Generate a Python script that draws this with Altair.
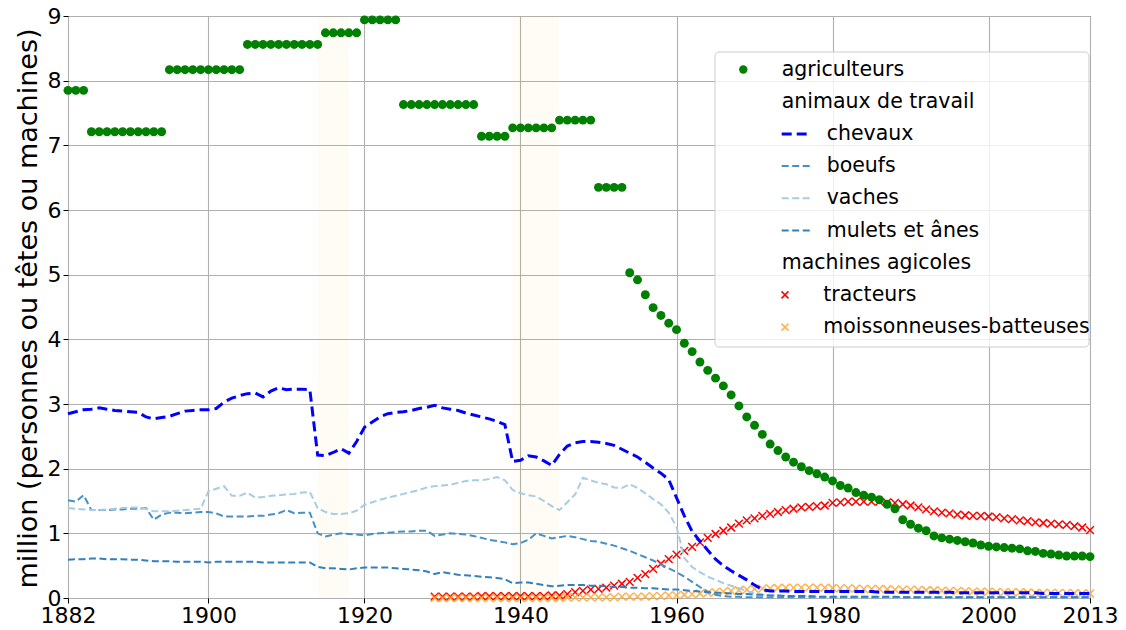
import altair as alt
import pandas as pd

# ---------------- data ----------------
years = list(range(1882, 2014))
machine_years = list(range(1929, 2014))

agriculteurs = [
    7.85, 7.85, 7.85,
    7.21, 7.21, 7.21, 7.21, 7.21, 7.21, 7.21, 7.21, 7.21, 7.21,
    8.17, 8.17, 8.17, 8.17, 8.17, 8.17, 8.17, 8.17, 8.17, 8.17,
    8.56, 8.56, 8.56, 8.56, 8.56, 8.56, 8.56, 8.56, 8.56, 8.56,
    8.74, 8.74, 8.74, 8.74, 8.74,
    8.94, 8.94, 8.94, 8.94, 8.94,
    7.63, 7.63, 7.63, 7.63, 7.63, 7.63, 7.63, 7.63, 7.63, 7.63,
    7.14, 7.14, 7.14, 7.14,
    7.27, 7.27, 7.27, 7.27, 7.27, 7.27,
    7.39, 7.39, 7.39, 7.39, 7.39,
    6.35, 6.35, 6.35, 6.35,
    5.03, 4.92, 4.69, 4.49, 4.37, 4.25, 4.15, 3.94, 3.81, 3.65,
    3.52, 3.40, 3.28, 3.14, 2.97, 2.80, 2.67, 2.53, 2.38, 2.28,
    2.18, 2.10, 2.03, 1.97, 1.92, 1.87, 1.81, 1.74, 1.70, 1.63,
    1.59, 1.56, 1.52, 1.45, 1.38, 1.21, 1.14, 1.08, 1.04, 0.96,
    0.93, 0.91, 0.89, 0.87, 0.85, 0.82, 0.80, 0.79, 0.78, 0.77,
    0.76, 0.73, 0.72, 0.69, 0.68, 0.665, 0.65, 0.65, 0.65, 0.64,
]

chevaux = [
    2.85, 2.88, 2.91, 2.92, 2.94, 2.92, 2.90, 2.89, 2.88, 2.87,
    2.80, 2.77, 2.79, 2.81, 2.85, 2.89, 2.90, 2.91, 2.91, 2.93,
    3.03, 3.09, 3.13, 3.16, 3.17, 3.11, 3.20, 3.25, 3.22, 3.23,
    3.23, 3.22, 2.21, 2.20, 2.25, 2.31, 2.24, 2.42, 2.64, 2.72,
    2.80, 2.85, 2.87, 2.88, 2.90, 2.93, 2.95, 2.98, 2.94, 2.92,
    2.90, 2.86, 2.83, 2.80, 2.77, 2.73, 2.68, 2.11, 2.13, 2.20,
    2.18, 2.12, 2.05, 2.22, 2.35, 2.40, 2.42, 2.42, 2.41, 2.39,
    2.36, 2.30, 2.24, 2.18, 2.10, 2.01, 1.93, 1.83, 1.55, 1.27,
    1.03, 0.88, 0.74, 0.60, 0.50, 0.42, 0.35, 0.28, 0.20, 0.13,
    0.11, 0.11, 0.11, 0.10, 0.10, 0.10, 0.10, 0.10, 0.10, 0.10,
    0.10, 0.10, 0.10, 0.10, 0.09, 0.09, 0.09, 0.09, 0.09, 0.09,
    0.09, 0.09, 0.09, 0.09, 0.08, 0.08, 0.08, 0.08, 0.08, 0.08,
    0.08, 0.08, 0.08, 0.08, 0.08, 0.07, 0.07, 0.07, 0.07, 0.07,
    0.07, 0.07,
]

boeufs = [
    1.51, 1.49, 1.59, 1.36, 1.36, 1.36, 1.37, 1.37, 1.38, 1.38,
    1.39, 1.21, 1.29, 1.32, 1.32, 1.31, 1.32, 1.33, 1.33, 1.31,
    1.26, 1.26, 1.26, 1.26, 1.27, 1.27, 1.29, 1.31, 1.36, 1.31,
    1.32, 1.32, 1.00, 0.95, 0.98, 1.00, 0.99, 0.98, 0.97, 0.99,
    1.00, 1.01, 1.02, 1.03, 1.03, 1.04, 1.04, 0.96, 0.98, 1.00,
    0.99, 0.98, 0.96, 0.93, 0.90, 0.88, 0.86, 0.83, 0.85, 0.90,
    1.00, 0.96, 0.92, 0.94, 0.96, 0.94, 0.91, 0.88, 0.87, 0.84,
    0.81, 0.77, 0.73, 0.68, 0.63, 0.58, 0.52, 0.46, 0.40, 0.33,
    0.25, 0.17, 0.10, 0.05, 0.03, 0.02, 0.02, 0.01, 0.01, 0.01,
    0.01, 0.01, 0.01, 0.01, 0.01, 0.01, 0.01, 0.01, 0.01, 0.01,
    0.01, 0.01, 0.01, 0.01, 0.01, 0.01, 0.01, 0.01, 0.01, 0.01,
    0.01, 0.01, 0.01, 0.01, 0.01, 0.01, 0.01, 0.01, 0.01, 0.01,
    0.01, 0.01, 0.01, 0.01, 0.01, 0.01, 0.01, 0.01, 0.01, 0.01,
    0.01, 0.01,
]

vaches = [
    1.39, 1.38, 1.37, 1.36, 1.36, 1.37, 1.38, 1.39, 1.40, 1.40,
    1.38, 1.34, 1.34, 1.34, 1.35, 1.36, 1.37, 1.38, 1.65, 1.69,
    1.73, 1.58, 1.58, 1.63, 1.55, 1.56, 1.58, 1.59, 1.60, 1.61,
    1.63, 1.64, 1.39, 1.33, 1.30, 1.30, 1.31, 1.35, 1.44, 1.48,
    1.52, 1.55, 1.58, 1.61, 1.64, 1.67, 1.71, 1.73, 1.74, 1.75,
    1.78, 1.81, 1.82, 1.82, 1.84, 1.87, 1.82, 1.67, 1.62, 1.59,
    1.57, 1.50, 1.42, 1.36, 1.48, 1.60, 1.86, 1.82, 1.78, 1.76,
    1.71, 1.70, 1.76, 1.70, 1.62, 1.53, 1.45, 1.32, 1.10, 0.62,
    0.48, 0.40, 0.33, 0.28, 0.23, 0.19, 0.15, 0.11, 0.07, 0.05,
    0.04, 0.04, 0.03, 0.03, 0.03, 0.03, 0.02, 0.02, 0.02, 0.02,
    0.02, 0.02, 0.02, 0.02, 0.02, 0.01, 0.01, 0.01, 0.01, 0.01,
    0.01, 0.01, 0.01, 0.01, 0.01, 0.01, 0.01, 0.01, 0.01, 0.01,
    0.01, 0.01, 0.01, 0.01, 0.01, 0.01, 0.01, 0.01, 0.01, 0.01,
    0.01, 0.01,
]

mulets = [
    0.59, 0.60, 0.60, 0.61, 0.61, 0.60, 0.60, 0.60, 0.59, 0.59,
    0.58, 0.57, 0.57, 0.57, 0.56, 0.56, 0.56, 0.56, 0.55, 0.56,
    0.56, 0.56, 0.56, 0.56, 0.56, 0.55, 0.55, 0.55, 0.55, 0.55,
    0.55, 0.55, 0.48, 0.46, 0.46, 0.45, 0.44, 0.46, 0.47, 0.47,
    0.47, 0.47, 0.46, 0.45, 0.44, 0.43, 0.41, 0.37, 0.40, 0.38,
    0.36, 0.35, 0.34, 0.33, 0.32, 0.31, 0.29, 0.23, 0.24, 0.24,
    0.22, 0.20, 0.18, 0.19, 0.20, 0.20, 0.20, 0.19, 0.19, 0.18,
    0.17, 0.17, 0.16, 0.16, 0.15, 0.15, 0.14, 0.13, 0.13, 0.12,
    0.11, 0.10, 0.09, 0.08, 0.08, 0.07, 0.06, 0.06, 0.05, 0.05,
    0.04, 0.04, 0.03, 0.03, 0.03, 0.03, 0.02, 0.02, 0.02, 0.02,
    0.02, 0.02, 0.02, 0.02, 0.02, 0.02, 0.02, 0.01, 0.01, 0.01,
    0.01, 0.01, 0.01, 0.01, 0.01, 0.01, 0.01, 0.01, 0.01, 0.01,
    0.01, 0.01, 0.01, 0.01, 0.01, 0.01, 0.01, 0.01, 0.01, 0.01,
    0.01, 0.01,
]

tracteurs = [
    0.02, 0.02, 0.02, 0.02, 0.02, 0.02, 0.03, 0.03, 0.03, 0.03,
    0.03, 0.03, 0.03, 0.03, 0.03, 0.04, 0.04, 0.06, 0.09, 0.11,
    0.13, 0.14, 0.16, 0.19, 0.22, 0.25, 0.31, 0.37, 0.45, 0.53,
    0.60, 0.67, 0.73, 0.79, 0.86, 0.93, 0.99, 1.04, 1.09, 1.15,
    1.20, 1.23, 1.27, 1.30, 1.33, 1.36, 1.38, 1.40, 1.41, 1.42,
    1.43, 1.47, 1.48, 1.49, 1.49, 1.49, 1.49, 1.49, 1.48, 1.47,
    1.45, 1.43, 1.40, 1.37, 1.34, 1.32, 1.31, 1.29, 1.28, 1.27,
    1.27, 1.26, 1.25, 1.23, 1.22, 1.20, 1.19, 1.17, 1.16, 1.15,
    1.14, 1.13, 1.11, 1.09, 1.05,
]

moissonneuses = [
    0.00, 0.00, 0.00, 0.00, 0.00, 0.00, 0.00, 0.00, 0.00, 0.00,
    0.00, 0.00, 0.00, 0.00, 0.00, 0.00, 0.00, 0.01, 0.01, 0.01,
    0.01, 0.01, 0.01, 0.01, 0.02, 0.02, 0.02, 0.02, 0.03, 0.03,
    0.04, 0.04, 0.05, 0.06, 0.07, 0.08, 0.09, 0.10, 0.11, 0.12,
    0.13, 0.14, 0.145, 0.15, 0.155, 0.16, 0.16, 0.16, 0.16, 0.16,
    0.16, 0.155, 0.15, 0.15, 0.145, 0.14, 0.14, 0.14, 0.135, 0.13,
    0.13, 0.13, 0.125, 0.12, 0.12, 0.115, 0.11, 0.11, 0.105, 0.10,
    0.10, 0.10, 0.095, 0.09, 0.09, 0.09, 0.085, 0.08, 0.08, 0.08,
    0.08, 0.075, 0.075, 0.07, 0.07,
]

war_start = [1914, 1939]
war_end = [1918, 1945]

x_ticks = [1882, 1900, 1920, 1940, 1960, 1980, 2000, 2013]
y_ticks = [0, 1, 2, 3, 4, 5, 6, 7, 8, 9]

legend_labels = [
    "agriculteurs", "animaux de travail", "chevaux", "boeufs", "vaches",
    "mulets et ânes", "machines agicoles", "tracteurs", "moissonneuses-batteuses",
]

# ---------------- styling ----------------
FONT = "DejaVu Sans"
W, H = 1022, 582
C_CHEV = "#0000ff"
C_BOEUF = "#4590c8"
C_VACHE = "#a6cde3"
C_MULET = "#3080bf"
C_TRAC = "#ff0000"
C_MOIS = "#ffa530"
XPATH = "M -1 -1 L 1 1 M -1 1 L 1 -1"

xscale = alt.Scale(domain=[1882, 2013], nice=False, zero=False)
yscale = alt.Scale(domain=[0, 9], nice=False)

x_axis = alt.Axis(values=x_ticks, format="d", title=None, grid=True,
                  labelOverlap=False, labelFlush=False)
y_axis = alt.Axis(values=y_ticks, title="million (personnes ou têtes ou machines)",
                  grid=True, titleX=-40, titleY=292, titleAlign="center",
                  titleBaseline="middle", titleAngle=270, titleFontSize=27)

X = alt.X("annee:Q", scale=xscale, axis=x_axis)
Y = alt.Y("valeur:Q", scale=yscale, axis=y_axis)

# war spans
spans = pd.DataFrame({"debut": war_start, "fin": war_end})
span_layer = alt.Chart(spans).mark_rect(color="orange", opacity=0.035).encode(
    x=alt.X("debut:Q", scale=xscale, axis=x_axis), x2="fin:Q",
    y=alt.value(0), y2=alt.value(H))


def series_df(xs, vs):
    return pd.DataFrame({"annee": xs, "valeur": vs})


def line_layer(vals, color, width, dash):
    return alt.Chart(series_df(years, vals)).mark_line(
        color=color, strokeWidth=width, strokeDash=dash).encode(x=X, y=Y)


def cross_layer(vals, color, opacity):
    return alt.Chart(series_df(machine_years, vals)).mark_point(
        shape=XPATH, filled=False, color=color, strokeWidth=1.5, size=60,
        opacity=opacity).encode(x=X, y=Y)


trac_layer = cross_layer(tracteurs, C_TRAC, 1.0)
mois_layer = cross_layer(moissonneuses, C_MOIS, 0.85)

chev_layer = line_layer(chevaux, C_CHEV, 3, [10, 5])
boeuf_layer = line_layer(boeufs, C_BOEUF, 2, [7, 3.5])
vache_layer = line_layer(vaches, C_VACHE, 2, [7, 3.5])
mulet_layer = line_layer(mulets, C_MULET, 2, [7, 3.5])

agri_layer = alt.Chart(series_df(years, agriculteurs)).mark_point(
    shape="circle", filled=True, color="green", size=80, opacity=1).encode(x=X, y=Y)

# ---------------- legend ----------------
one = pd.DataFrame({"k": [0]})
leg_layers = []
leg_layers.append(alt.Chart(one).mark_rect(
    fill="white", fillOpacity=0.8, stroke="#cccccc", strokeWidth=1, cornerRadius=4
).encode(x=alt.value(647), x2=alt.value(1021), y=alt.value(36), y2=alt.value(331)))

row_y = [53.5 + 32.2 * i for i in range(len(legend_labels))]
text_x = [713.7, 713.7, 758.7, 758.7, 758.7, 758.7, 713.7, 755.3, 755.3]
for lab, yy, xx in zip(legend_labels, row_y, text_x):
    leg_layers.append(alt.Chart(one).mark_text(
        text=lab, font=FONT, fontSize=20.5, align="left", baseline="middle",
        color="#000000").encode(x=alt.value(xx), y=alt.value(yy)))

leg_layers.append(alt.Chart(one).mark_point(
    shape="circle", filled=True, color="green", size=70, opacity=1
).encode(x=alt.value(675.3), y=alt.value(row_y[0])))

for idx, (col, wid, dash) in zip(
        [2, 3, 4, 5],
        [(C_CHEV, 3, [10, 5]), (C_BOEUF, 2, [7, 3.5]), (C_VACHE, 2, [7, 3.5]), (C_MULET, 2, [7, 3.5])]):
    leg_layers.append(alt.Chart(one).mark_rule(
        color=col, strokeWidth=wid, strokeDash=dash
    ).encode(x=alt.value(713.7), x2=alt.value(743.7), y=alt.value(row_y[idx])))

for idx, col, op in [(7, C_TRAC, 1.0), (8, C_MOIS, 0.85)]:
    leg_layers.append(alt.Chart(one).mark_point(
        shape=XPATH, filled=False, color=col, strokeWidth=1.5, size=49, opacity=op
    ).encode(x=alt.value(717), y=alt.value(row_y[idx])))

chart = alt.layer(
    span_layer, trac_layer, mois_layer, chev_layer, boeuf_layer, vache_layer,
    mulet_layer, agri_layer, *leg_layers
).properties(
    width=W, height=H,
    autosize=alt.AutoSizeParams(type="none"),
    padding={"left": 60, "top": 8, "right": 28, "bottom": 32},
).configure_view(
    stroke="black", strokeWidth=1
).configure_axis(
    labelFont=FONT, labelFontSize=22, labelColor="black",
    titleFont=FONT, titleFontSize=22, titleFontWeight="normal", titleColor="black",
    tickColor="black", tickSize=5, tickWidth=1, labelPadding=2,
    domain=False, gridColor="#b0b0b0", gridWidth=1.1,
)

chart.save("out.html", embed_options={"renderer": "svg", "actions": False})
